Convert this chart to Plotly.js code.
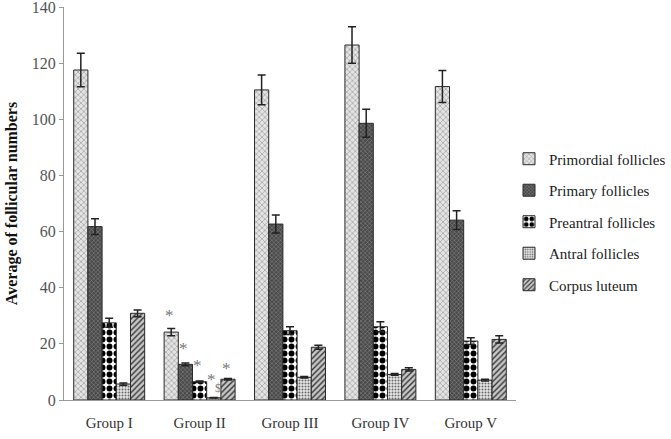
<!DOCTYPE html>
<html>
<head>
<meta charset="utf-8">
<script src="https://cdn.plot.ly/plotly-3.0.1.min.js"></script>
<style>html,body{margin:0;padding:0;background:#fff;}#chart{width:671px;height:439px;}</style>
</head>
<body>
<div id="chart"></div>
<script>
var groups = ["Group I", "Group II", "Group III", "Group IV", "Group V"];
var seriesNames = ["Primordial follicles", "Primary follicles", "Preantral follicles", "Antral follicles", "Corpus luteum"];
var primordial = [117.6, 24.2, 110.5, 126.5, 111.7];
var primordialErr = [6.0, 1.3, 5.3, 6.5, 5.7];
var primary = [61.8, 12.7, 62.7, 98.6, 64.1];
var primaryErr = [2.8, 0.5, 3.2, 5.0, 3.3];
var preantral = [27.5, 6.5, 24.7, 26.1, 21.0];
var preantralErr = [1.6, 0.3, 1.4, 1.8, 1.2];
var antral = [5.7, 0.8, 8.1, 9.1, 7.1];
var antralErr = [0.4, 0.1, 0.3, 0.3, 0.3];
var corpus = [30.9, 7.4, 18.8, 10.9, 21.6];
var corpusErr = [1.2, 0.3, 0.7, 0.6, 1.3];
var yTicks = [0, 20, 40, 60, 80, 100, 120, 140];
// significance marks for Group II (one per series)
var sigMarks = ["*", "*", "*", "*", "*"];
var sigY = [30.0, 18.2, 12.2, 7.2, 11.1];
var dollarMark = "$";
var dollarY = 4.2;

var SERIF = "'Liberation Serif', 'Times New Roman', Times, serif";

var values = [primordial, primary, preantral, antral, corpus];
var errs = [primordialErr, primaryErr, preantralErr, antralErr, corpusErr];
var patterns = [
  {shape: "x", bgcolor: "#e4e4e4", fgcolor: "#8a8a8a", size: 4, solidity: 0.25},
  {shape: "x", bgcolor: "#4a4a4a", fgcolor: "#8c8c8c", size: 3, solidity: 0.3},
  {shape: ".", bgcolor: "#ffffff", fgcolor: "#000000", size: 7, solidity: 0.55},
  {shape: ".", bgcolor: "#e6e6e6", fgcolor: "#6a6a6a", size: 3, solidity: 0.35},
  {shape: "/", bgcolor: "#c8c8c8", fgcolor: "#333333", size: 4, solidity: 0.35}
];

var traces = seriesNames.map(function(name, i) {
  return {
    type: "bar",
    name: name,
    x: groups,
    y: values[i],
    legendgroup: "g" + i,
    marker: {
      color: patterns[i].bgcolor,
      pattern: patterns[i],
      line: {color: "#2a2a2a", width: 1}
    },
    error_y: {type: "data", array: errs[i], visible: true, color: "#222", thickness: 1.5, width: 4}
  };
});

var nb = 5, bargap = 0.215;
var bw = (1 - bargap) / nb;
var annotations = [];
sigMarks.forEach(function(m, i) {
  annotations.push({
    x: 1 + (i - 2) * bw - 0.02, y: sigY[i], xref: "x", yref: "y",
    text: m, showarrow: false, xanchor: "center", yanchor: "middle",
    font: {family: SERIF, size: 17, color: "rgb(120,120,120)"}
  });
});
annotations.push({
  x: 1 + 1 * bw + 0.045, y: dollarY, xref: "x", yref: "y",
  text: dollarMark, showarrow: false, xanchor: "center", yanchor: "middle",
  font: {family: SERIF, size: 12, color: "rgb(120,120,120)"}
});

var W = 671, ML = 64, MR = 0, plotRight = 516;
var paperW = W - ML - MR;

var layout = {
  width: W, height: 439,
  margin: {l: ML, r: MR, t: 7, b: 39},
  paper_bgcolor: "#fff", plot_bgcolor: "#fff",
  barmode: "group", bargap: bargap, bargroupgap: 0,
  font: {family: SERIF, size: 15, color: "#333"},
  showlegend: true,
  legend: {
    x: (509 - ML) / paperW, xanchor: "left", y: 0.453, yanchor: "middle",
    font: {family: SERIF, size: 15, color: "#222"},
    tracegroupgap: 9, itemwidth: 30, traceorder: "grouped"
  },
  xaxis: {
    type: "category", domain: [0, (plotRight - ML) / paperW],
    showline: true, linecolor: "#999", linewidth: 1,
    ticks: "", showgrid: false, zeroline: false,
    tickfont: {family: SERIF, size: 15, color: "#333"},
    ticklabelstandoff: 9
  },
  yaxis: {
    range: [0, 140.05], tickmode: "array", tickvals: yTicks,
    showline: true, linecolor: "#999", linewidth: 1,
    ticks: "outside", ticklen: 4, tickcolor: "#999",
    showgrid: false, zeroline: false, ticklabeloverflow: "allow",
    tickfont: {family: SERIF, size: 16, color: "#555"},
    title: {text: "Average of follicular numbers", standoff: 10,
            font: {family: SERIF, size: 16, color: "#111", weight: "bold"}}
  },
  annotations: annotations
};

Plotly.newPlot("chart", traces, layout, {displayModeBar: false, staticPlot: true});
</script>
</body>
</html>
